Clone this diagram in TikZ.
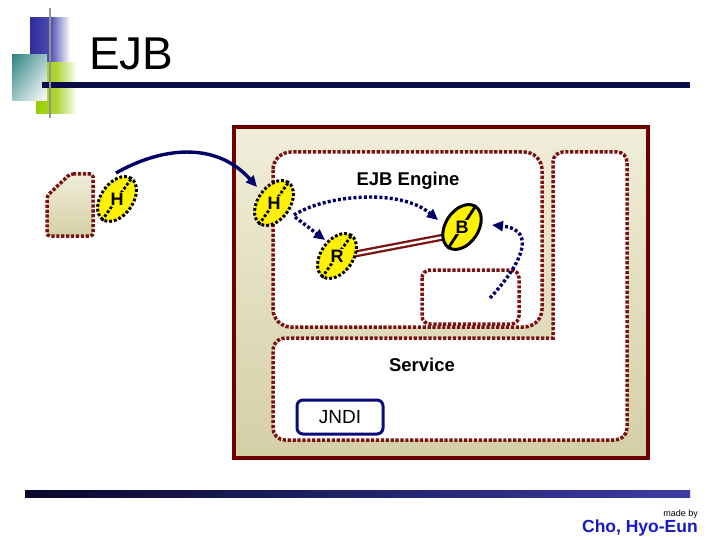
\documentclass[tikz,border=0pt]{standalone}
\usepackage{fontspec}
\setmainfont{Liberation Sans}
\usetikzlibrary{shapes.geometric,arrows.meta,calc,shadings}
\definecolor{maroonD}{RGB}{122,18,18}
\definecolor{frameR}{RGB}{110,0,0}
\definecolor{navyA}{RGB}{0,0,105}
\definecolor{beigeL}{RGB}{240,238,218}
\definecolor{beigeD}{RGB}{212,207,165}
\definecolor{jndiB}{RGB}{10,10,120}
\definecolor{authorB}{RGB}{25,25,200}
\definecolor{blueSq}{RGB}{45,45,160}
\definecolor{greenSq}{RGB}{153,204,0}
\definecolor{tealSq}{RGB}{45,130,130}
\definecolor{titleNavy}{RGB}{12,12,75}
\definecolor{barDark}{RGB}{8,8,45}
\definecolor{barLight}{RGB}{60,60,165}
\tikzset{
  mdot/.style={draw=maroonD, line width=3.5pt, dash pattern=on 3.2pt off 1.7pt},
  elbase/.style={ellipse, fill=yellow, inner sep=0pt, line width=3pt},
  eldot/.style={elbase, draw=black, dash pattern=on 2.8pt off 2pt, minimum width=50pt, minimum height=32pt},
  elsolid/.style={elbase, draw=black, minimum width=49pt, minimum height=33pt},
  axisdot/.style={draw=black, line width=2.8pt, dash pattern=on 2.8pt off 2pt},
  axissolid/.style={draw=black, line width=2.8pt},
  letter/.style={font=\bfseries\fontsize{18}{18}\selectfont, inner sep=1.2pt, fill=yellow},
  navyarrow/.style={draw=navyA, line width=3.4pt, -{Triangle[length=11pt,width=10pt]}},
  dotarrow/.style={navyarrow, dash pattern=on 3pt off 2.2pt},
  bigtext/.style={font=\bfseries\fontsize{18.5}{18.5}\selectfont},
}
\begin{document}
\begin{tikzpicture}[x=1pt,y=-1pt]
\useasboundingbox (0,0) rectangle (720,540);
\fill[white] (0,0) rectangle (720,540);

% title decoration
\shade[left color=blueSq, right color=white, middle color=blueSq!85] (30,18) rectangle (70,64);
\shade[left color=greenSq, right color=white, middle color=greenSq!80] (36,63) rectangle (77,114);
\shade[upper left=tealSq, upper right=tealSq!45, lower left=tealSq!45, lower right=white] (12,55) rectangle (47,101);
\fill[titleNavy] (42,82) rectangle (690,88);
\draw[gray!85, line width=2.5pt] (50,8) -- (50,118);
\node[anchor=base west, inner sep=0pt, font=\fontsize{46}{46}\selectfont] (title) at (89,70) {EJB};

% bottom bar and credit
\shade[left color=barDark, right color=barLight] (25,490) rectangle (690,497);
\node[anchor=base east, inner sep=0pt, font=\fontsize{9}{9}\selectfont] (madeby) at (698,516) {made by};
\node[anchor=base east, inner sep=0pt, text=authorB, font=\bfseries\fontsize{17.5}{17.5}\selectfont] (author) at (698,532) {Cho, Hyo-Eun};

% container
\draw[frameR, line width=3.5pt, top color=beigeL, bottom color=beigeD] (234,127) rectangle (648,458);

% engine region
\draw[mdot, fill=white, rounded corners=18pt] (273,152) rectangle (542,327);
\draw[mdot, fill=white, rounded corners=8pt] (422,270) rectangle (519,324);

% L-shaped service region
\draw[mdot, fill=white] (273,428) -- (273,350)
  arc[start angle=180, end angle=270, radius=12] -- (553,338) -- (553,162)
  arc[start angle=180, end angle=270, radius=10] -- (617,152)
  arc[start angle=270, end angle=360, radius=10] -- (627,428)
  arc[start angle=0, end angle=90, radius=12] -- (285,440)
  arc[start angle=90, end angle=180, radius=12] -- cycle;

\node[bigtext] (engine) at (408,181) {EJB Engine};
\node[bigtext] (service) at (422,365) {Service};
\node[draw=jndiB, line width=3pt, fill=white, rounded corners=6pt, minimum width=86pt, minimum height=34pt,
      font=\fontsize{19}{19}\selectfont] (jndi) at (340,417) {JNDI};

% client shape
\draw[mdot, top color=beigeL, bottom color=beigeD, rounded corners=3pt]
  (70,174) -- (93,174) -- (93,236) -- (47,236) -- (47,196) -- cycle;

% R -- B double link
\coordinate (rb1) at (355,254);
\coordinate (rb2) at (444,237);
\draw[draw=maroonD, line width=7pt] (rb1) -- (rb2);
\draw[draw=white, line width=2.4pt] (rb1) -- (rb2);

% ellipse nodes
\node[eldot, rotate=55] (hl) at (117,199) {};
\node[eldot, rotate=55] (hr) at (274,203) {};
\node[eldot, rotate=55] (r) at (337,256) {};
\node[elsolid, rotate=57] (b) at (462,227) {};

\draw[axisdot] (hl.west) -- (hl.east);
\draw[axisdot] (hr.west) -- (hr.east);
\draw[axisdot] (r.west) -- (r.east);
\draw[axissolid] (b.west) -- (b.east);

\node[letter] (hlt) at (hl) {H};
\node[letter] (hrt) at (hr) {H};
\node[letter] (rt) at (r) {R};
\node[letter] (bt) at (b) {B};

% connectors
\draw[navyarrow] ($(hl)+(-1,-26)$) .. controls (160,148) and (215,140) .. ($(hr)+(-17,-16)$);
\draw[dotarrow] ($(hr)+(20,12)$) .. controls (325,195) and (400,188) .. ($(b)+(-24,-7)$);
\draw[dotarrow] ($(hr)+(21,14)$) -- ($(r)+(-12,-16)$);
\draw[dotarrow] ($(b)+(28,71)$) .. controls (518,268) and (540,230) .. ($(b)+(30,-2)$);
\end{tikzpicture}
\end{document}
